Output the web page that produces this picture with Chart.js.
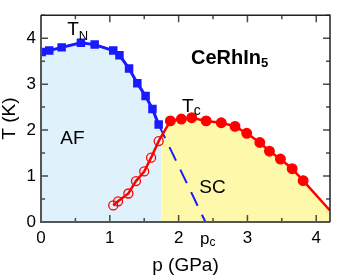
<!DOCTYPE html>
<html>
<head>
<meta charset="utf-8">
<script src="https://cdn.jsdelivr.net/npm/chart.js@4.4.1/dist/chart.umd.min.js"></script>
<style>
  html, body { margin: 0; padding: 0; background: #fff; }
  #wrap { width: 337px; height: 277px; position: relative; }
</style>
</head>
<body>
<div id="wrap"><canvas id="c"></canvas></div>
<script>
// ---- data ----
const tnPressure = [0.01, 0.12, 0.30, 0.58, 0.78, 1.05, 1.14, 1.28, 1.40, 1.52, 1.62, 1.71];
const tnTemp     = [3.70, 3.73, 3.80, 3.90, 3.86, 3.73, 3.63, 3.34, 3.02, 2.74, 2.46, 2.12];

const tcLowPressure = [1.05, 1.12, 1.27, 1.38, 1.50, 1.60, 1.71];
const tcLowTemp     = [0.36, 0.45, 0.62, 0.89, 1.10, 1.40, 1.76];

const tcPressure = [1.88, 2.04, 2.19, 2.40, 2.62, 2.82, 2.99, 3.18, 3.32, 3.48, 3.65, 3.81];
const tcTemp     = [2.20, 2.24, 2.27, 2.20, 2.16, 2.08, 1.93, 1.73, 1.54, 1.37, 1.16, 0.90];

const tcTailPressure = [4.2];
const tcTailTemp     = [0.25];

const scBoundaryPressure = [1.75];
const scBoundaryTemp     = [1.86];

const pcPressure = 2.39;

const xTickValues = [0, 1, 2, 3, 4];
const yTickValues = [0, 1, 2, 3, 4];

// ---- build datasets ----
const pts = (xs, ys) => xs.map((x, i) => ({ x: x, y: ys[i] }));

const tnPts = pts(tnPressure, tnTemp);
const tcLowPts = pts(tcLowPressure, tcLowTemp);
const tcPts = pts(tcPressure, tcTemp);
const tailPts = pts(tcTailPressure, tcTailTemp);
const boundPts = pts(scBoundaryPressure, scBoundaryTemp);

const redLine = tcLowPts.concat(tcPts, tailPts);
const redRadius = redLine.map((p, i) => i < tcLowPts.length ? 4.5 : (i < tcLowPts.length + tcPts.length ? 4.8 : 0));
const redFill = redLine.map((p, i) => i < tcLowPts.length ? 'rgba(0,0,0,0)' : '#ff0000');

const blueFillPts = tnPts.concat(boundPts);
const yellowFillPts = boundPts.concat(tcPts, tailPts);
const dashPts = [tnPts[tnPts.length - 1], { x: pcPressure, y: 0 }];

const FONT = "'Liberation Sans', Arial, Helvetica, sans-serif";

const frame = {
  id: 'frame',
  afterDatasetsDraw(chart) {
    const ctx = chart.ctx;
    const a = chart.chartArea;
    const xs = chart.scales.x, ys = chart.scales.y;
    ctx.save();
    ctx.strokeStyle = '#4a4a4a';
    ctx.lineWidth = 1.5;
    // ticks (inward, all four sides)
    for (let v = 0; v <= 4.2001; v += 0.5) {
      const major = Math.abs(v - Math.round(v)) < 1e-6;
      const len = major ? 7 : 4;
      const px = xs.getPixelForValue(v);
      ctx.beginPath();
      ctx.moveTo(px, a.bottom); ctx.lineTo(px, a.bottom - len);
      ctx.moveTo(px, a.top); ctx.lineTo(px, a.top + len);
      ctx.stroke();
    }
    for (let v = 0; v <= 4.5001; v += 0.5) {
      const major = Math.abs(v - Math.round(v)) < 1e-6;
      const len = major ? 7 : 4;
      const py = ys.getPixelForValue(v);
      ctx.beginPath();
      ctx.moveTo(a.left, py); ctx.lineTo(a.left + len, py);
      ctx.moveTo(a.right, py); ctx.lineTo(a.right - len, py);
      ctx.stroke();
    }
    // frame
    ctx.lineWidth = 2;
    ctx.strokeStyle = '#555';
    ctx.beginPath();
    ctx.moveTo(a.left, a.top); ctx.lineTo(a.left, a.bottom); ctx.lineTo(a.right, a.bottom);
    ctx.stroke();
    ctx.strokeStyle = '#222';
    ctx.lineWidth = 1.5;
    ctx.beginPath();
    ctx.moveTo(a.left, a.top); ctx.lineTo(a.right, a.top); ctx.lineTo(a.right, a.bottom);
    ctx.stroke();

    // text labels
    ctx.fillStyle = '#000';
    ctx.textBaseline = 'alphabetic';
    ctx.textAlign = 'left';
    const sub = (main, s, px, py, size, subSize, dy, weight) => {
      ctx.font = (weight || '') + ' ' + size + 'px ' + FONT;
      ctx.fillText(main, px, py);
      const w = ctx.measureText(main).width;
      ctx.font = (weight || '') + ' ' + subSize + 'px ' + FONT;
      ctx.fillText(s, px + w, py + dy);
    };
    sub('T', 'N', xs.getPixelForValue(0.38), ys.getPixelForValue(4.06), 19, 13, 5);
    sub('T', 'c', xs.getPixelForValue(2.05), ys.getPixelForValue(2.39), 19, 14, 3);
    sub('CeRhIn', '5', xs.getPixelForValue(2.18), ys.getPixelForValue(3.44), 20, 13, 3, 'bold');
    ctx.font = '19px ' + FONT;
    ctx.fillText('AF', xs.getPixelForValue(0.28), ys.getPixelForValue(1.69));
    ctx.fillText('SC', xs.getPixelForValue(2.30), ys.getPixelForValue(0.64));
    sub('p', 'c', xs.getPixelForValue(2.31), a.bottom + 22, 17, 12, 2);
    ctx.restore();
  }
};

new Chart(document.getElementById('c'), {
  type: 'scatter',
  data: {
    datasets: [
      { data: blueFillPts, showLine: true, fill: 'origin', backgroundColor: '#dff1fb',
        borderWidth: 0, pointRadius: 0, order: 10 },
      { data: yellowFillPts, showLine: true, fill: 'origin', backgroundColor: '#fdf8aa',
        borderWidth: 0, pointRadius: 0, order: 9 },
      { data: dashPts, showLine: true, borderColor: '#1a1aff', borderWidth: 2,
        borderDash: [15, 10], pointRadius: 0, order: 5 },
      { data: redLine, showLine: true, borderColor: '#ff0000', borderWidth: 2.5,
        pointRadius: redRadius, pointBackgroundColor: redFill, pointBorderColor: '#ff0000',
        pointBorderWidth: 1.3, order: 3 },
      { data: tnPts, showLine: true, borderColor: '#1a1aff', borderWidth: 3,
        pointStyle: 'rect', pointRadius: 6, pointBackgroundColor: '#1a1aff',
        pointBorderColor: '#1a1aff', pointBorderWidth: 0, order: 1 }
    ]
  },
  options: {
    responsive: true,
    maintainAspectRatio: false,
    animation: false,
    layout: { padding: { top: 1, right: 7, left: 0, bottom: 0 } },
    plugins: { legend: { display: false }, tooltip: { enabled: false } },
    elements: { line: { tension: 0 } },
    scales: {
      x: {
        type: 'linear', min: 0, max: 4.2,
        grid: { display: false, drawTicks: false },
        border: { display: false },
        afterBuildTicks: (s) => { s.ticks = xTickValues.map(v => ({ value: v })); },
        afterFit: (s) => { s.height = 55; },
        ticks: { color: '#000', font: { family: FONT, size: 17 }, padding: 6,
                 callback: (v) => String(v) },
        title: { display: true, text: 'p (GPa)', color: '#000',
                 font: { family: FONT, size: 19, lineHeight: 1 }, padding: { top: 0, bottom: 2 } }
      },
      y: {
        type: 'linear', min: 0, max: 4.5,
        grid: { display: false, drawTicks: false },
        border: { display: false },
        afterBuildTicks: (s) => { s.ticks = yTickValues.map(v => ({ value: v })); },
        afterFit: (s) => { s.width = 41; },
        ticks: { color: '#000', font: { family: FONT, size: 17 }, padding: 5,
                 callback: (v) => String(v) },
        title: { display: true, text: 'T (K)', color: '#000',
                 font: { family: FONT, size: 19, lineHeight: 1 }, padding: { top: 0, bottom: 0 } }
      }
    }
  },
  plugins: [frame]
});
</script>
</body>
</html>
